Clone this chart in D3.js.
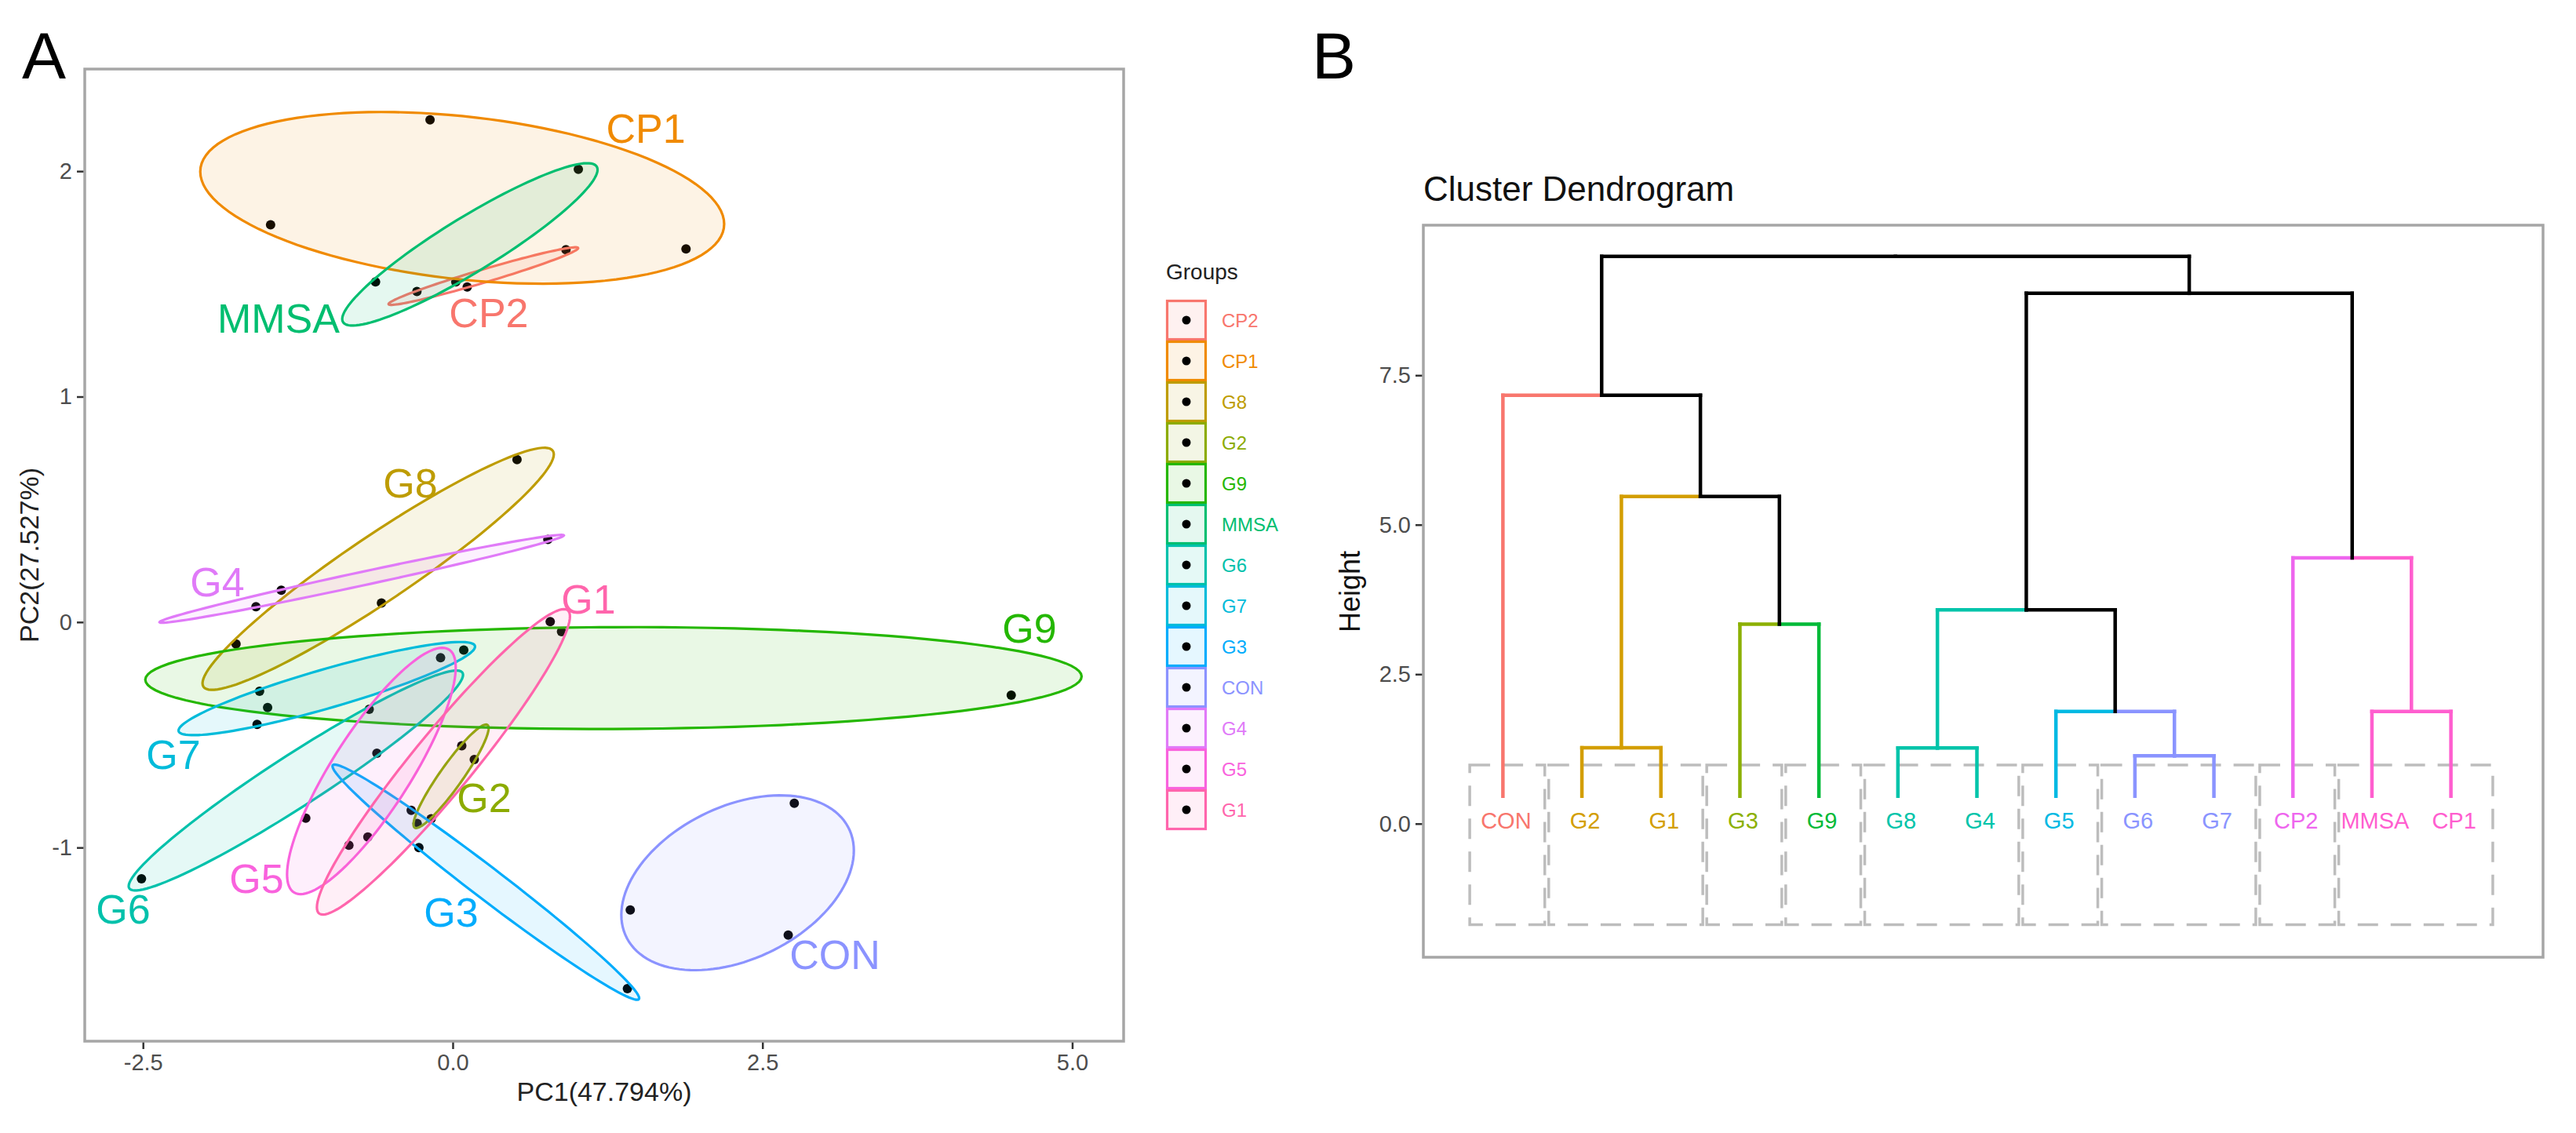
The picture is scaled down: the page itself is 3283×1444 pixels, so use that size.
<!DOCTYPE html>
<html>
<head>
<meta charset="utf-8">
<script src="https://cdn.jsdelivr.net/npm/d3@7"></script>
<style>
  body { margin: 0; background: #fff; }
  svg { display: block; font-family: "Liberation Sans", Arial, Helvetica, sans-serif; }
</style>
</head>
<body>
<div id="chart"></div>
<script>
// ---------- Panel A : PCA scores ----------
const groups = ["CP2","CP1","G8","G2","G9","MMSA","G6","G7","G3","CON","G4","G5","G1"];
const groupColors = ["#F8766D","#F08A00","#BE9C00","#8CAB00","#24B700","#00BE70","#00C1AB","#00BBDA","#00ACFC","#8B93FF","#E07AF8","#F962DD","#FF65AC"];

const sampleGroup = [
  "CP2","CP2","CP2", "CP1","CP1","CP1", "G8","G8","G8", "G2","G2","G2",
  "G9","G9","G9", "MMSA","MMSA","MMSA", "G6","G6","G6", "G7","G7","G7",
  "G3","G3","G3", "CON","CON","CON", "G4","G4","G4", "G5","G5","G5", "G1","G1","G1"
];
const pc1 = [
  0.914, -0.289, 0.117,   -0.183, -1.470, 1.883,   0.519, -0.575, -1.749,   0.073, 0.174, -0.287,
  4.508, -1.494, 0.878,   1.014, -0.623, 0.025,   -2.512, -0.674, -0.612,   0.089, -1.559, -1.579,
  1.410, -0.273, -0.335,   2.757, 1.433, 2.708,   0.768, -1.384, -1.588,   -0.098, -1.186, -0.685,
  0.787, -0.838, -0.174
];
const pc2 = [
  1.652, 1.466, 1.486,   2.228, 1.762, 1.655,   0.721, 0.085, -0.097,   -0.549, -0.610, -0.893,
  -0.324, -0.379, -0.042,   2.008, 1.509, 1.509,   -1.139, -0.387, -0.582,   -0.124, -0.307, -0.454,
  -1.626, -1.000, -0.835,   -0.804, -1.277, -1.388,   0.367, 0.141, 0.068,   -0.158, -0.870, -0.953,
  0.002, -0.990, -0.872
];
// where each group's name is written (data units, same order as groups)
const labelPC1 = [0.291, 1.558, -0.342, 0.253, 4.655, -1.406, -2.660, -2.255, -0.013, 3.084, -1.900, -1.583, 1.096];
const labelPC2 = [1.374, 2.192, 0.619, -0.777, -0.025, 1.350, -1.271, -0.585, -1.286, -1.473, 0.180, -1.135, 0.104];

const pcaXTicks = [-2.5, 0, 2.5, 5];
const pcaYTicks = [-1, 0, 1, 2];

// ---------- Panel B : dendrogram ----------
const leafLabels = ["CON","G2","G1","G3","G9","G8","G4","G5","G6","G7","CP2","MMSA","CP1"];
const leafCluster = [0, 1, 1, 2, 3, 4, 4, 5, 6, 6, 7, 8, 8];
const clusterColors = ["#F8766D","#D39E00","#8CB000","#00BA38","#00C4AA","#00B9E3","#8A94FF","#EE66EE","#FF5ECF"];
// hclust style merges: negative = leaf (1-based, display order), positive = earlier merge
const mergeLeft   = [-2,   -9,    -12,   -8,    -6,    -4,    5,     -11,   1,     -1,    7,     10];
const mergeRight  = [-3,   -10,   -13,   2,     -7,    -5,    4,     3,     6,     9,     8,     11];
const mergeHeight = [1.27, 1.135, 1.877, 1.877, 1.265, 3.336, 3.577, 4.447, 5.474, 7.166, 8.870, 9.487];
const heightTicks = [0, 2.5, 5, 7.5];

const W = 3283, H = 1444;
const svg = d3.select("#chart").append("svg").attr("width", W).attr("height", H);
svg.append("rect").attr("width", W).attr("height", H).attr("fill", "#fff");

const borderCol = "#A6A6A6";
const tickCol = "#333";
const tickTxt = "#4D4D4D";

// ================= Panel A =================
const pA = { left: 108, right: 1432, top: 88, bottom: 1327 };
const x = d3.scaleLinear().domain([-2.97, 5.415]).range([pA.left, pA.right]);
const y = d3.scaleLinear().domain([-1.859, 2.453]).range([pA.bottom, pA.top]);
const color = d3.scaleOrdinal().domain(groups).range(groupColors);

svg.append("text").attr("x", 28).attr("y", 100).attr("font-size", 84).attr("fill", "#000").text("A");

const gA = svg.append("g");
gA.append("clipPath").attr("id", "clipA").append("rect")
  .attr("x", pA.left).attr("y", pA.top).attr("width", pA.right - pA.left).attr("height", pA.bottom - pA.top);
const plotA = gA.append("g").attr("clip-path", "url(#clipA)");

const pts = sampleGroup.map((g, i) => ({ g, x: pc1[i], y: pc2[i] }));

// points (drawn before the ellipses, as in the original layer order)
plotA.selectAll("circle.pt").data(pts).enter().append("circle")
  .attr("class", "pt")
  .attr("cx", d => x(d.x)).attr("cy", d => y(d.y)).attr("r", 6)
  .attr("fill", "#000");

// ellipses from each group's mean and covariance
const radius = 1.25;
function ellipse(xs, ys) {
  const n = xs.length, mx = d3.mean(xs), my = d3.mean(ys);
  let sxx = 0, syy = 0, sxy = 0;
  for (let i = 0; i < n; i++) {
    const dx = xs[i] - mx, dy = ys[i] - my;
    sxx += dx * dx; syy += dy * dy; sxy += dx * dy;
  }
  sxx /= (n - 1); syy /= (n - 1); sxy /= (n - 1);
  const a = Math.sqrt(sxx), b = sxy / a, c = Math.sqrt(Math.max(syy - b * b, 1e-9));
  return d3.range(0, 120).map(k => {
    const t = 2 * Math.PI * k / 120;
    return [mx + radius * Math.cos(t) * a, my + radius * (Math.cos(t) * b + Math.sin(t) * c)];
  });
}
const line = d3.line().x(d => x(d[0])).y(d => y(d[1])).curve(d3.curveLinearClosed);

groups.forEach(g => {
  const sub = pts.filter(p => p.g === g);
  const e = ellipse(sub.map(p => p.x), sub.map(p => p.y));
  plotA.append("path").attr("d", line(e))
    .attr("fill", color(g)).attr("fill-opacity", 0.1)
    .attr("stroke", color(g)).attr("stroke-width", 3.2);
});

// group names
plotA.selectAll("text.lab").data(groups).enter().append("text")
  .attr("class", "lab")
  .attr("x", (g, i) => x(labelPC1[i])).attr("y", (g, i) => y(labelPC2[i]))
  .attr("text-anchor", "middle").attr("dy", "0.36em")
  .attr("font-size", 52).attr("fill", g => color(g))
  .text(g => g);

// axes
const xAxisA = d3.axisBottom(x).tickValues(pcaXTicks).tickSize(10).tickPadding(6).tickFormat(d3.format(".1f"));
const yAxisA = d3.axisLeft(y).tickValues(pcaYTicks).tickSize(10).tickPadding(6).tickFormat(d => String(d));
const gxA = gA.append("g").attr("transform", `translate(0,${pA.bottom})`).call(xAxisA);
const gyA = gA.append("g").attr("transform", `translate(${pA.left},0)`).call(yAxisA);
[gxA, gyA].forEach(ax => {
  ax.select(".domain").remove();
  ax.selectAll(".tick line").attr("stroke", tickCol).attr("stroke-width", 2.5);
  ax.selectAll(".tick text").attr("fill", tickTxt).attr("font-size", 29)
    .attr("font-family", "Liberation Sans, Arial, sans-serif")
    .text(function() { return this.textContent.replace("\u2212", "-"); });
});
gA.append("rect").attr("x", pA.left).attr("y", pA.top)
  .attr("width", pA.right - pA.left).attr("height", pA.bottom - pA.top)
  .attr("fill", "none").attr("stroke", borderCol).attr("stroke-width", 3.5);

gA.append("text").attr("x", (pA.left + pA.right) / 2).attr("y", 1403)
  .attr("text-anchor", "middle").attr("font-size", 34).attr("fill", "#222").text("PC1(47.794%)");
gA.append("text").attr("transform", `translate(49,${(pA.top + pA.bottom) / 2}) rotate(-90)`)
  .attr("text-anchor", "middle").attr("font-size", 34).attr("fill", "#222").text("PC2(27.527%)");

// legend
const leg = svg.append("g").attr("transform", "translate(1486,382)");
leg.append("text").attr("x", 0).attr("y", -26).attr("font-size", 28).attr("fill", "#222").text("Groups");
const keys = leg.selectAll("g.key").data(groups).enter().append("g")
  .attr("class", "key").attr("transform", (g, i) => `translate(0,${i * 52})`);
keys.append("rect").attr("x", 1.5).attr("y", 1.5).attr("width", 49).attr("height", 49)
  .attr("fill", g => color(g)).attr("fill-opacity", 0.1)
  .attr("stroke", g => color(g)).attr("stroke-width", 3.2);
keys.append("circle").attr("cx", 26).attr("cy", 26).attr("r", 5.5).attr("fill", "#000");
keys.append("text").attr("x", 71).attr("y", 26).attr("dy", "0.36em")
  .attr("font-size", 24).attr("fill", g => color(g)).text(g => g);

// ================= Panel B =================
const pB = { left: 1814, right: 3241, top: 287, bottom: 1220 };
const xd = d3.scaleLinear().domain([-0.007, 14.166]).range([pB.left, pB.right]);
const yd = d3.scaleLinear().domain([-2.234, 10.01]).range([pB.bottom, pB.top]);

svg.append("text").attr("x", 1672).attr("y", 100).attr("font-size", 84).attr("fill", "#000").text("B");
svg.append("text").attr("x", pB.left).attr("y", 256).attr("font-size", 44).attr("fill", "#111").text("Cluster Dendrogram");

const gB = svg.append("g");

// dashed cluster boxes (one per run of equal cluster id)
const runs = [];
leafCluster.forEach((c, i) => {
  if (runs.length && runs[runs.length - 1].c === c) runs[runs.length - 1].last = i + 1;
  else runs.push({ c, first: i + 1, last: i + 1 });
});
gB.selectAll("rect.box").data(runs).enter().append("rect")
  .attr("class", "box")
  .attr("x", d => xd(d.first - 0.42)).attr("y", yd(0.98))
  .attr("width", d => xd(d.last + 0.53) - xd(d.first - 0.42))
  .attr("height", yd(-1.69) - yd(0.98))
  .attr("fill", "none").attr("stroke", "#BDBDBD").attr("stroke-width", 3.5)
  .attr("stroke-dasharray", "26,16");

// tree geometry
const leafBottom = 0.46;
const nodes = [];
function child(id) {
  if (id < 0) {
    const i = -id - 1;
    return { x: i + 1, h: leafBottom, cl: new Set([leafCluster[i]]) };
  }
  return nodes[id - 1];
}
mergeLeft.forEach((l, k) => {
  const a = child(l), b = child(mergeRight[k]);
  nodes.push({ x: (a.x + b.x) / 2, h: mergeHeight[k], cl: new Set([...a.cl, ...b.cl]), kids: [a, b] });
});
const branchColor = n => n.cl.size === 1 ? clusterColors[[...n.cl][0]] : "#000";

const segs = [];
nodes.forEach(n => {
  n.kids.forEach(c => {
    const col = branchColor(c);
    segs.push({ x1: c.x, y1: c.h, x2: c.x, y2: n.h, col });
    segs.push({ x1: c.x, y1: n.h, x2: n.x, y2: n.h, col });
  });
});
segs.sort((a, b) => (a.col === "#000") - (b.col === "#000"));
gB.selectAll("line.br").data(segs).enter().append("line")
  .attr("class", "br")
  .attr("x1", d => xd(d.x1)).attr("y1", d => yd(d.y1))
  .attr("x2", d => xd(d.x2)).attr("y2", d => yd(d.y2))
  .attr("stroke", d => d.col).attr("stroke-width", 4.5).attr("stroke-linecap", "square");

// leaf labels
gB.selectAll("text.leaf").data(leafLabels).enter().append("text")
  .attr("class", "leaf")
  .attr("x", (d, i) => xd(i + 1) + 4).attr("y", yd(0.05)).attr("dy", "0.36em")
  .attr("text-anchor", "middle").attr("font-size", 29)
  .attr("fill", (d, i) => clusterColors[leafCluster[i]])
  .text(d => d);

// axis
const yAxisB = d3.axisLeft(yd).tickValues(heightTicks).tickSize(10).tickPadding(6).tickFormat(d3.format(".1f"));
const gyB = gB.append("g").attr("transform", `translate(${pB.left},0)`).call(yAxisB);
gyB.select(".domain").remove();
gyB.selectAll(".tick line").attr("stroke", tickCol).attr("stroke-width", 2.5);
gyB.selectAll(".tick text").attr("fill", tickTxt).attr("font-size", 29)
  .attr("font-family", "Liberation Sans, Arial, sans-serif");

gB.append("rect").attr("x", pB.left).attr("y", pB.top)
  .attr("width", pB.right - pB.left).attr("height", pB.bottom - pB.top)
  .attr("fill", "none").attr("stroke", borderCol).attr("stroke-width", 3.5);

gB.append("text").attr("transform", `translate(1733,754) rotate(-90)`)
  .attr("text-anchor", "middle").attr("font-size", 36).attr("fill", "#111").text("Height");
</script>
</body>
</html>
